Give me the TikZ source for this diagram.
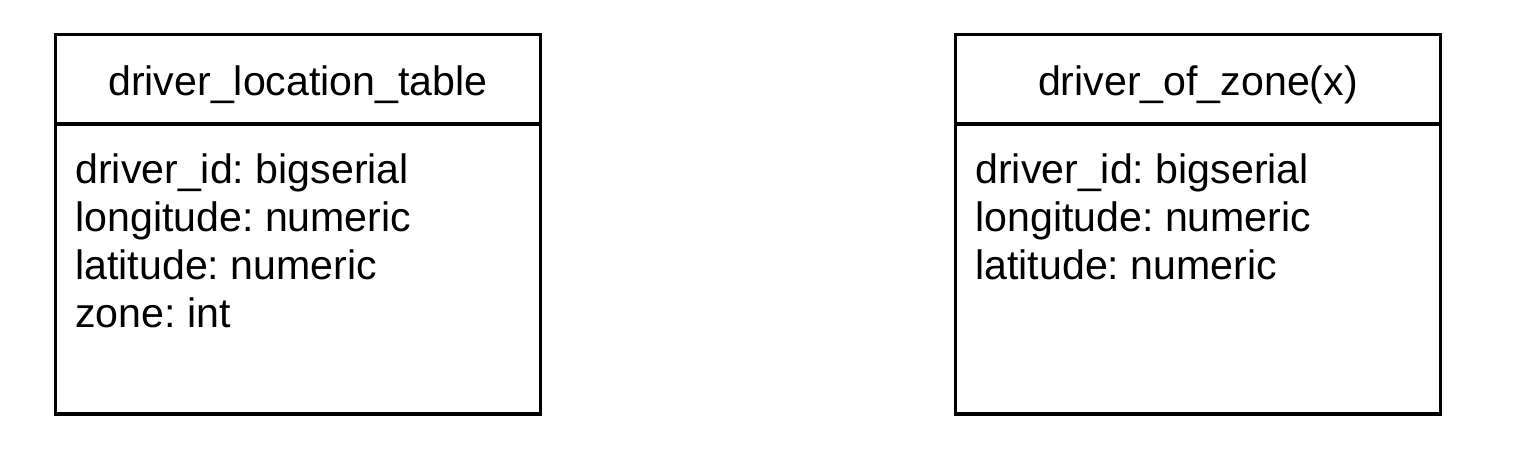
\documentclass[tikz,border=0pt]{standalone}
\usepackage{fontspec}
\setmainfont{Liberation Sans}
\frenchspacing
\usetikzlibrary{positioning}

\begin{document}
\begin{tikzpicture}[x=0.02cm,y=-0.02cm,
    tablehead/.style={draw,line width=0.065cm,outer sep=0pt,inner sep=0pt,
      minimum width=9.7cm,minimum height=1.79cm,
      text height=0.64cm,text depth=0pt},
    tablebody/.style={draw,line width=0.065cm,outer sep=0pt,inner sep=0pt,
      minimum width=9.7cm,minimum height=5.8cm},
    fieldlist/.style={inner sep=0pt,align=left,anchor=north west}]
  \useasboundingbox (0,0) rectangle (1516,461);
  \begin{scope}[every node/.style={font=\fontsize{23.4}{27.3}\selectfont}]
    % left table
    \node[tablehead,anchor=north west] (LH) at (55.5,34.5) {driver\_location\_table};
    \node[tablebody,below=0pt of LH] (LB) {};
    \node[fieldlist] (LF) at (75,153) {driver\_id: bigserial\\longitude: numeric\\latitude: numeric\\zone: int};
    % right table
    \node[tablehead,anchor=north west] (RH) at (955.5,34.5) {driver\_of\_zone(x)};
    \node[tablebody,below=0pt of RH] (RB) {};
    \node[fieldlist] (RF) at (975,153) {driver\_id: bigserial\\longitude: numeric\\latitude: numeric};
  \end{scope}
\end{tikzpicture}
\end{document}
